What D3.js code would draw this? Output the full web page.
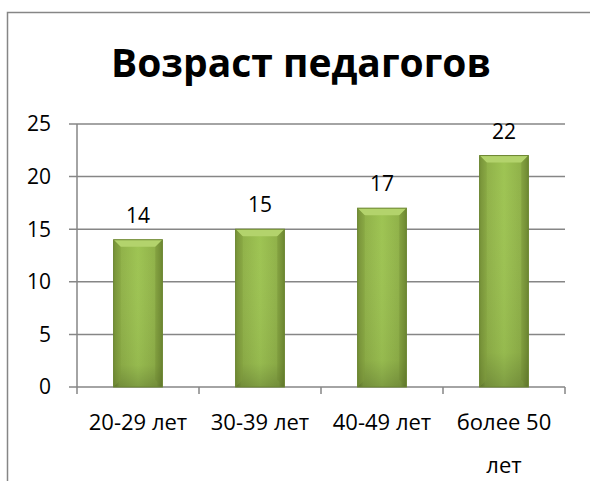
<!DOCTYPE html>
<html>
<head>
<meta charset="utf-8">
<script src="https://cdn.jsdelivr.net/npm/d3@7"></script>
<style>
  body { margin: 0; background: #fff; }
  svg text { font-family: "Open Sans", "Noto Sans", sans-serif; fill: #000; }
</style>
</head>
<body>
<div id="chart"></div>
<script>
// data
var categories = ["20-29 лет", "30-39 лет", "40-49 лет", "более 50 лет"];
var values = [14, 15, 17, 22];
var yTicks = [0, 5, 10, 15, 20, 25];
var title = "Возраст педагогов";

var width = 590, height = 481;
var margins = { top: 124, right: 25, bottom: 94, left: 77 };
var chartWidth = width - margins.left - margins.right;
var chartHeight = height - margins.top - margins.bottom;

var svg = d3.select("#chart").append("svg")
    .attr("width", width)
    .attr("height", height);

// gradients for the bevelled bars
var defs = svg.append("defs");
var grad = defs.append("linearGradient").attr("id", "barGrad")
    .attr("x1", "0").attr("x2", "1").attr("y1", "0").attr("y2", "0");
grad.append("stop").attr("offset", "0%").attr("stop-color", "#6f8a34");
grad.append("stop").attr("offset", "12%").attr("stop-color", "#8fb048");
grad.append("stop").attr("offset", "50%").attr("stop-color", "#9ec453");
grad.append("stop").attr("offset", "88%").attr("stop-color", "#8fb048");
grad.append("stop").attr("offset", "100%").attr("stop-color", "#6f8a34");
var vgrad = defs.append("linearGradient").attr("id", "barShade")
    .attr("x1", "0").attr("x2", "0").attr("y1", "0").attr("y2", "1");
vgrad.append("stop").attr("offset", "0%").attr("stop-color", "#fff").attr("stop-opacity", 0);
vgrad.append("stop").attr("offset", "85%").attr("stop-color", "#000").attr("stop-opacity", 0.05);
vgrad.append("stop").attr("offset", "100%").attr("stop-color", "#000").attr("stop-opacity", 0.2);

// outer frame
svg.append("rect")
    .attr("x", 7.5).attr("y", 12.5)
    .attr("width", 600).attr("height", 500)
    .attr("fill", "none")
    .attr("stroke", "#868686")
    .attr("stroke-width", 1.5);

svg.append("text")
    .attr("x", 301)
    .attr("y", 77)
    .attr("text-anchor", "middle")
    .attr("font-size", "39px")
    .attr("font-weight", "bold")
    .text(title);

var chartGroup = svg.append("g")
    .attr("transform", `translate(${margins.left}, ${margins.top})`);

var xScale = d3.scaleBand()
    .domain(categories)
    .range([0, chartWidth])
    .paddingInner(0.6)
    .paddingOuter(0.3);

var xBand = d3.scaleBand()
    .domain(categories)
    .range([0, chartWidth]);

var yScale = d3.scaleLinear()
    .domain([0, 25])
    .range([chartHeight, 0]);

// gridlines
chartGroup.append("g")
    .selectAll("line")
    .data(yTicks)
    .enter()
    .append("line")
    .attr("x1", -8)
    .attr("x2", chartWidth)
    .attr("y1", d => yScale(d))
    .attr("y2", d => yScale(d))
    .attr("stroke", "#868686")
    .attr("stroke-width", 1.5);

// y axis line
chartGroup.append("line")
    .attr("x1", 0).attr("x2", 0)
    .attr("y1", 0).attr("y2", chartHeight)
    .attr("stroke", "#868686")
    .attr("stroke-width", 1.5);

// x ticks
chartGroup.append("g")
    .selectAll("line")
    .data(categories.map((c, i) => i).concat([categories.length]))
    .enter()
    .append("line")
    .attr("x1", i => i * xBand.bandwidth())
    .attr("x2", i => i * xBand.bandwidth())
    .attr("y1", chartHeight)
    .attr("y2", chartHeight + 7)
    .attr("stroke", "#868686")
    .attr("stroke-width", 1.5);

// y tick labels
chartGroup.append("g")
    .selectAll("text")
    .data(yTicks)
    .enter()
    .append("text")
    .attr("x", -26)
    .attr("y", d => yScale(d))
    .attr("dy", "0.35em")
    .attr("text-anchor", "end")
    .attr("font-size", "21px")
    .text(d => d);

// bars
var bars = chartGroup.selectAll(".bar")
    .data(values)
    .enter()
    .append("g")
    .attr("class", "bar");

bars.append("rect")
    .attr("x", (d, i) => xScale(categories[i]))
    .attr("y", d => yScale(d))
    .attr("width", xScale.bandwidth())
    .attr("height", d => chartHeight - yScale(d))
    .attr("fill", "url(#barGrad)");

bars.append("rect")
    .attr("x", (d, i) => xScale(categories[i]))
    .attr("y", d => yScale(d))
    .attr("width", xScale.bandwidth())
    .attr("height", d => chartHeight - yScale(d))
    .attr("fill", "url(#barShade)");

// top bevel
bars.append("path")
    .attr("d", (d, i) => {
        var x0 = xScale(categories[i]), x1 = x0 + xScale.bandwidth(), y0 = yScale(d), b = 7;
        return `M${x0},${y0}L${x1},${y0}L${x1 - b},${y0 + b}L${x0 + b},${y0 + b}Z`;
    })
    .attr("fill", "#b3d36c");

bars.append("path")
    .attr("d", (d, i) => {
        var x0 = xScale(categories[i]), x1 = x0 + xScale.bandwidth(), y0 = yScale(d), b = 7;
        return `M${x0},${y0}L${x0 + b},${y0 + b}L${x0 + b},${chartHeight - b}L${x0},${chartHeight}Z`;
    })
    .attr("fill", "#7d9a3c")
    .attr("opacity", 0.5);

bars.append("path")
    .attr("d", (d, i) => {
        var x0 = xScale(categories[i]), x1 = x0 + xScale.bandwidth(), y0 = yScale(d), b = 7;
        return `M${x1},${y0}L${x1 - b},${y0 + b}L${x1 - b},${chartHeight - b}L${x1},${chartHeight}Z`;
    })
    .attr("fill", "#6b8530")
    .attr("opacity", 0.4);

bars.append("rect")
    .attr("x", (d, i) => xScale(categories[i]))
    .attr("y", d => yScale(d))
    .attr("width", xScale.bandwidth())
    .attr("height", d => chartHeight - yScale(d))
    .attr("fill", "none")
    .attr("stroke", "#6b8530")
    .attr("stroke-width", 1);

// value labels
chartGroup.selectAll(".valText")
    .data(values)
    .enter()
    .append("text")
    .attr("x", (d, i) => xScale(categories[i]) + xScale.bandwidth() / 2)
    .attr("y", d => yScale(d) - 17)
    .attr("text-anchor", "middle")
    .attr("font-size", "21px")
    .text(d => d);

// x labels (wrapped)
var xLabels = chartGroup.selectAll(".xText")
    .data(categories)
    .enter()
    .append("text")
    .attr("text-anchor", "middle")
    .attr("font-size", "22px");

xLabels.each(function (d) {
    var lines = d === "более 50 лет" ? ["более 50", "лет"] : [d];
    var t = d3.select(this);
    lines.forEach(function (l, j) {
        t.append("tspan")
            .attr("x", xScale(d) + xScale.bandwidth() / 2)
            .attr("y", chartHeight + 43 + j * 43)
            .text(l);
    });
});
</script>
</body>
</html>
